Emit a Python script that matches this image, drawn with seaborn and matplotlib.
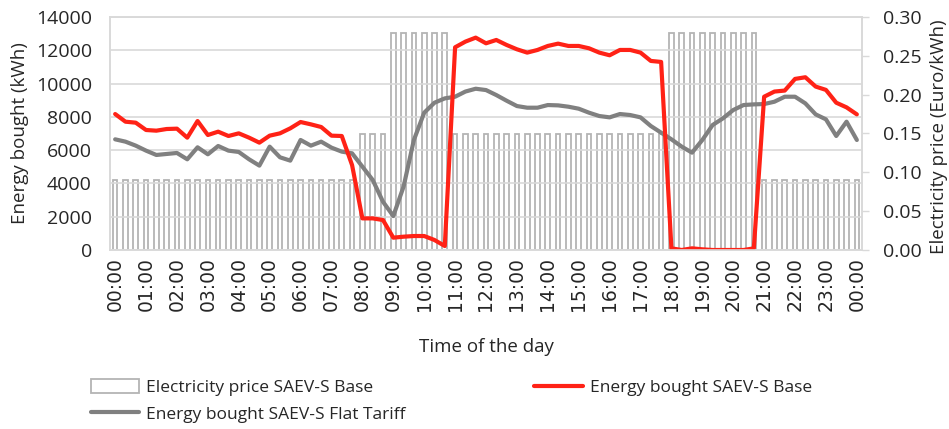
import numpy as np
import pandas as pd
import matplotlib
matplotlib.use("Agg")
import matplotlib.pyplot as plt
import seaborn as sns
from matplotlib.patches import Patch
from matplotlib.lines import Line2D

# 20-minute slots from 00:00 to 24:00 (73 categories)
slots = list(range(73))

price_base = [0.09] * 24 + [0.15] * 3 + [0.28] * 6 + [0.15] * 21 + [0.28] * 9 + [0.09] * 10

energy_base = [
    8170, 7710, 7650, 7210, 7170, 7270, 7290, 6750, 7750, 6910, 7110, 6850,
    7010, 6750, 6450, 6870, 7010, 7310, 7690, 7550, 7390, 6870, 6850, 5100,
    1900, 1900, 1800, 740, 800, 840, 840, 600, 240, 12180, 12520, 12760,
    12420, 12620, 12320, 12060, 11860, 12020, 12260, 12400, 12260, 12260, 12120, 11860,
    11700, 12020, 12020, 11860, 11360, 11300, 100, 0, 100, 40, 0, 0,
    0, 0, 100, 9210, 9520, 9580, 10280, 10380, 9820, 9620, 8850, 8570,
    8150,
]

energy_flat = [
    6650, 6510, 6270, 5970, 5710, 5770, 5830, 5450, 6170, 5750, 6250, 5970,
    5890, 5450, 5070, 6210, 5570, 5370, 6610, 6270, 6510, 6150, 5910, 5810,
    5010, 4210, 2900, 2040, 3810, 6610, 8250, 8850, 9110, 9210, 9520, 9690,
    9610, 9310, 8970, 8650, 8550, 8550, 8710, 8690, 8610, 8490, 8250, 8050,
    7970, 8170, 8110, 7970, 7450, 7050, 6650, 6210, 5850, 6610, 7510, 7910,
    8410, 8710, 8750, 8770, 8910, 9210, 9210, 8810, 8150, 7850, 6850, 7710,
    6610,
]

hour_labels = [
    "00:00", "01:00", "02:00", "03:00", "04:00", "05:00", "06:00", "07:00",
    "08:00", "09:00", "10:00", "11:00", "12:00", "13:00", "14:00", "15:00",
    "16:00", "17:00", "18:00", "19:00", "20:00", "21:00", "22:00", "23:00",
    "00:00",
]

df = pd.DataFrame({"slot": slots, "price": price_base,
                   "base": energy_base, "flat": energy_flat})

sns.set_style("white")
plt.rcParams["font.family"] = ["Open Sans", "DejaVu Sans"]

RED = "#ff2216"
GREY = "#808080"
BAR = "#b4b4b4"
GRID = "#d9d9d9"

fig = plt.figure(figsize=(9.49, 4.29), dpi=100)
ax = fig.add_axes([110 / 949, 1 - 250 / 429, 752 / 949, 233 / 429])
ax2 = ax.twinx()

# price bars on the right axis
sns.barplot(data=df, x="slot", y="price", ax=ax2, color=BAR, fill=False,
            width=0.45, linewidth=1.3, errorbar=None)

# energy lines on the left axis
sns.lineplot(data=df, x="slot", y="flat", ax=ax, color=GREY, linewidth=3)
sns.lineplot(data=df, x="slot", y="base", ax=ax, color=RED, linewidth=3)

ax.set_zorder(ax2.get_zorder() + 1)
ax.patch.set_visible(False)

ax.set_ylim(0, 14000)
ax.set_yticks(range(0, 14001, 2000))
ax2.set_ylim(0, 0.30)
ax2.set_yticks(np.arange(0, 0.301, 0.05))
ax2.set_yticklabels([f"{v:.2f}" for v in np.arange(0, 0.301, 0.05)])
ax.set_xlim(-0.5, 72.5)
ax.set_xticks(range(0, 73, 3))
ax.set_xticklabels(hour_labels, rotation=90, family="DejaVu Sans", fontsize=13.5)

ax.grid(axis="y", color=GRID, linewidth=1.2)
ax.grid(axis="x", visible=False)
ax2.grid(False)

ax.tick_params(axis="y", length=0, pad=13, labelsize=14)
ax.tick_params(axis="x", length=0, pad=5)
ax2.tick_params(axis="y", length=5, width=1, color=GRID, pad=10, labelsize=14)

for a in (ax, ax2):
    for s in a.spines.values():
        s.set_color(GRID)
        s.set_linewidth(1.2)
    a.set_xlabel("")
    a.set_ylabel("")

fig.text(20 / 949, 1 - 133 / 429, "Energy bought (kWh)", rotation=90,
         ha="center", va="center", fontsize=13.5)
fig.text(939 / 949, 1 - 137 / 429, "Electricity price (Euro/kWh)", rotation=90,
         ha="center", va="center", fontsize=13.5)
fig.text(486 / 949, 1 - 347 / 429, "Time of the day", ha="center", va="center",
         fontsize=13.5)

handles = [
    Patch(facecolor="white", edgecolor=BAR, linewidth=1.3),
    Line2D([], [], color=GREY, linewidth=3),
    Line2D([], [], color=RED, linewidth=3),
]
labels = ["Electricity price SAEV-S Base", "Energy bought SAEV-S Flat Tariff",
          "Energy bought SAEV-S Base"]
fig.legend(handles, labels, loc="center left", bbox_to_anchor=(82 / 949, 1 - 401 / 429),
           ncol=2, frameon=False, fontsize=12.5, handlelength=2.8, handletextpad=0.4,
           columnspacing=7.4, labelspacing=0.55, handleheight=0.9, borderpad=0)

fig.savefig("out.png", dpi=100)
